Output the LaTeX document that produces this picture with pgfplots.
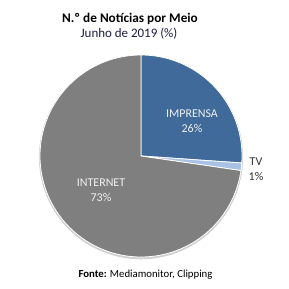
\documentclass[border=0pt]{standalone}
\usepackage{pgfplots}
\pgfplotsset{compat=1.18}
\usepackage{pgfplotstable}
\usepackage{fontspec}
\setmainfont{Carlito}
\definecolor{cImp}{HTML}{3F6A9A}
\definecolor{cTV}{HTML}{A7C2E4}
\definecolor{cNet}{HTML}{7F7F7F}
\definecolor{cSub}{HTML}{1C1C40}
\definecolor{cLab}{HTML}{F0F0F0}
\pgfplotstableread{
meio value
IMPRENSA 26.1
TV 1.2
INTERNET 72.7
}\pietable
\begin{document}
\begin{tikzpicture}
\pgfplotstablegetelem{0}{value}\of\pietable \let\vA\pgfplotsretval
\pgfplotstablegetelem{1}{value}\of\pietable \let\vB\pgfplotsretval
\pgfplotstablegetelem{2}{value}\of\pietable \let\vC\pgfplotsretval
\pgfmathsetmacro\aA{90}
\pgfmathsetmacro\aB{90-3.6*\vA}
\pgfmathsetmacro\aC{\aB-3.6*\vB}
\pgfmathsetmacro\aD{\aC-3.6*\vC}
\begin{axis}[width=289bp,height=289bp,scale only axis,
  xmin=0,xmax=289,ymin=0,ymax=289,hide axis,clip=false]
\path (0,0) rectangle (289,289);
% soft shadow
\addplot[draw=black!18,line width=2.2pt,domain=0:360,samples=120,variable=\t]
  ({141+101*cos(\t)},{131.8+101*sin(\t)});
\addplot[fill=cImp,draw=white,line width=0.8pt,domain=\aB:\aA,samples=80,variable=\t]
  ({141+101*cos(\t)},{133+101*sin(\t)}) -- (141,133) -- cycle;
\addplot[fill=cTV,draw=white,line width=0.8pt,domain=\aC:\aB,samples=10,variable=\t]
  ({141+101*cos(\t)},{133+101*sin(\t)}) -- (141,133) -- cycle;
\addplot[fill=cNet,draw=white,line width=0.8pt,domain=\aD:\aC,samples=200,variable=\t]
  ({141+101*cos(\t)},{133+101*sin(\t)}) -- (141,133) -- cycle;
\node[font=\bfseries\fontsize{13.3}{15}\selectfont] at (130,270) {N.º de Notícias por Meio};
\node[font=\fontsize{13}{15}\selectfont,text=cSub] at (129,255) {Junho de 2019 (\%)};
\node[font=\fontsize{12}{14}\selectfont,text=cLab,align=center] at (192,168) {IMPRENSA\\[1pt]26\%};
\node[font=\fontsize{12}{14}\selectfont,text=cLab,align=center] at (101,99) {INTERNET\\[1pt]73\%};
\node[font=\fontsize{12}{14}\selectfont,text=black!80,align=center] at (256,120) {TV\\[1pt]1\%};
\node[font=\fontsize{10.8}{12}\selectfont] at (145.5,14) {\textbf{Fonte:} Mediamonitor, Clipping};
\end{axis}
\end{tikzpicture}
\end{document}
